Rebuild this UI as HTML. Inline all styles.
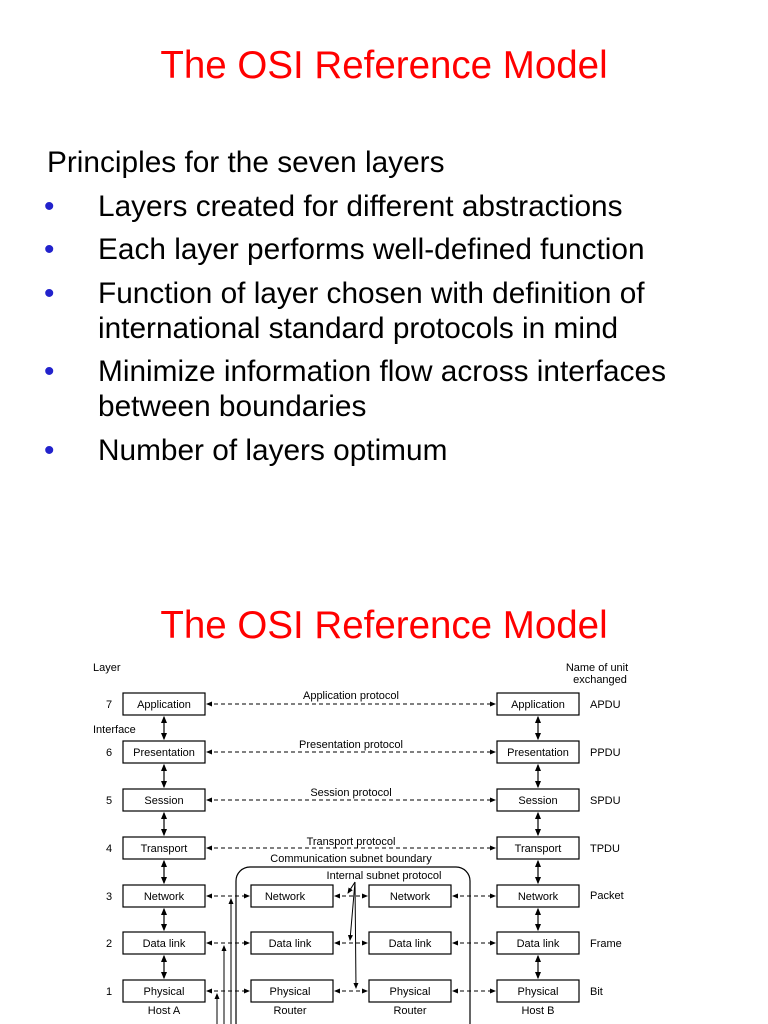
<!DOCTYPE html>
<html><head><style>
html,body{margin:0;padding:0;background:#fff;}
body{width:768px;height:1024px;position:relative;overflow:hidden;font-family:"Liberation Sans",sans-serif;}
.t{position:absolute;left:0;width:768px;text-align:center;color:#ff0000;font-size:38.5px;}
.p{position:absolute;font-size:29.8px;color:#000;white-space:nowrap;}
.b{position:absolute;left:44px;color:#2222cc;font-size:29.8px;}
</style></head><body>
<div class="t" style="top:44px">The OSI Reference Model</div>
<div class="p" style="left:47px;top:146px">Principles for the seven layers</div>
<div class="b" style="top:190px">•</div><div class="p" style="left:98px;top:190px">Layers created for different abstractions</div>
<div class="b" style="top:233px">•</div><div class="p" style="left:98px;top:233px">Each layer performs well-defined function</div>
<div class="b" style="top:277px">•</div><div class="p" style="left:98px;top:277px">Function of layer chosen with definition of</div>
<div class="p" style="left:98px;top:312px">international standard protocols in mind</div>
<div class="b" style="top:355px">•</div><div class="p" style="left:98px;top:355px">Minimize information flow across interfaces</div>
<div class="p" style="left:98px;top:390px">between boundaries</div>
<div class="b" style="top:434px">•</div><div class="p" style="left:98px;top:434px">Number of layers optimum</div>
<div class="t" style="top:604px">The OSI Reference Model</div>
<svg style="position:absolute;left:0;top:0" width="768" height="1024" font-family="Liberation Sans, sans-serif" font-size="11">
<defs><marker id="a" markerWidth="6" markerHeight="6" refX="5" refY="3" orient="auto-start-reverse"><path d="M0,0.5 L6,3 L0,5.5z" fill="#000"/></marker></defs>
<g fill="#fff" stroke="#000" stroke-width="1.2">
<rect x="123" y="693" width="82" height="22"/><rect x="497" y="693" width="82" height="22"/>
<rect x="123" y="741" width="82" height="22"/><rect x="497" y="741" width="82" height="22"/>
<rect x="123" y="789" width="82" height="22"/><rect x="497" y="789" width="82" height="22"/>
<rect x="123" y="837" width="82" height="22"/><rect x="497" y="837" width="82" height="22"/>
<rect x="236" y="867" width="234" height="170" rx="14"/>
<rect x="123" y="885" width="82" height="22"/><rect x="497" y="885" width="82" height="22"/>
<rect x="123" y="932" width="82" height="22"/><rect x="497" y="932" width="82" height="22"/>
<rect x="123" y="980" width="82" height="22"/><rect x="497" y="980" width="82" height="22"/>
<rect x="251" y="885" width="82" height="22"/><rect x="369" y="885" width="82" height="22"/>
<rect x="251" y="932" width="82" height="22"/><rect x="369" y="932" width="82" height="22"/>
<rect x="251" y="980" width="82" height="22"/><rect x="369" y="980" width="82" height="22"/>
</g>
<g text-anchor="middle" fill="#000">
<text x="164" y="708">Application</text><text x="538" y="708">Application</text>
<text x="164" y="756">Presentation</text><text x="538" y="756">Presentation</text>
<text x="164" y="804">Session</text><text x="538" y="804">Session</text>
<text x="164" y="852">Transport</text><text x="538" y="852">Transport</text>
<text x="164" y="900">Network</text><text x="538" y="900">Network</text><text x="285" y="900">Network</text><text x="410" y="900">Network</text>
<text x="164" y="947">Data link</text><text x="538" y="947">Data link</text><text x="290" y="947">Data link</text><text x="410" y="947">Data link</text>
<text x="164" y="995">Physical</text><text x="538" y="995">Physical</text><text x="290" y="995">Physical</text><text x="410" y="995">Physical</text>
<text x="164" y="1014">Host A</text><text x="290" y="1014">Router</text><text x="410" y="1014">Router</text><text x="538" y="1014">Host B</text>
<text x="351" y="699">Application protocol</text><text x="351" y="748">Presentation protocol</text><text x="351" y="796">Session protocol</text>
<text x="351" y="845">Transport protocol</text><text x="351" y="862">Communication subnet boundary</text><text x="384" y="879">Internal subnet protocol</text>
<text x="109" y="708">7</text><text x="109" y="756">6</text><text x="109" y="804">5</text><text x="109" y="852">4</text><text x="109" y="900">3</text><text x="109" y="947">2</text><text x="109" y="995">1</text>
<text x="597" y="671">Name of unit</text><text x="600" y="683">exchanged</text>
</g>
<g fill="#000"><text x="93" y="671">Layer</text><text x="93" y="733">Interface</text>
<text x="590" y="708">APDU</text><text x="590" y="756">PPDU</text><text x="590" y="804">SPDU</text><text x="590" y="852">TPDU</text><text x="590" y="899">Packet</text><text x="590" y="947">Frame</text><text x="590" y="995">Bit</text></g>
<g stroke="#000" stroke-width="1" stroke-dasharray="4,3" marker-start="url(#a)" marker-end="url(#a)">
<line x1="207" y1="704" x2="495" y2="704"/><line x1="207" y1="752" x2="495" y2="752"/><line x1="207" y1="800" x2="495" y2="800"/><line x1="207" y1="848" x2="495" y2="848"/>
<line x1="207" y1="896" x2="249" y2="896"/><line x1="335" y1="896" x2="367" y2="896"/><line x1="453" y1="896" x2="495" y2="896"/>
<line x1="207" y1="943" x2="249" y2="943"/><line x1="335" y1="943" x2="367" y2="943"/><line x1="453" y1="943" x2="495" y2="943"/>
<line x1="207" y1="991" x2="249" y2="991"/><line x1="335" y1="991" x2="367" y2="991"/><line x1="453" y1="991" x2="495" y2="991"/>
</g>
<g stroke="#000" stroke-width="1.2" marker-start="url(#a)" marker-end="url(#a)">
<line x1="164" y1="717" x2="164" y2="739"/><line x1="164" y1="765" x2="164" y2="787"/><line x1="164" y1="813" x2="164" y2="835"/><line x1="164" y1="861" x2="164" y2="883"/><line x1="164" y1="909" x2="164" y2="930"/><line x1="164" y1="956" x2="164" y2="978"/>
<line x1="538" y1="717" x2="538" y2="739"/><line x1="538" y1="765" x2="538" y2="787"/><line x1="538" y1="813" x2="538" y2="835"/><line x1="538" y1="861" x2="538" y2="883"/><line x1="538" y1="909" x2="538" y2="930"/><line x1="538" y1="956" x2="538" y2="978"/>
</g>
<g stroke="#000" stroke-width="1" marker-end="url(#a)">
<line x1="217" y1="1024" x2="217" y2="994"/><line x1="224" y1="1024" x2="224" y2="946"/><line x1="231" y1="1024" x2="231" y2="899"/>
<line x1="355" y1="882" x2="348" y2="893"/><line x1="355" y1="882" x2="350" y2="940"/><line x1="355" y1="882" x2="356" y2="988"/>
</g>
</svg>
</body></html>
